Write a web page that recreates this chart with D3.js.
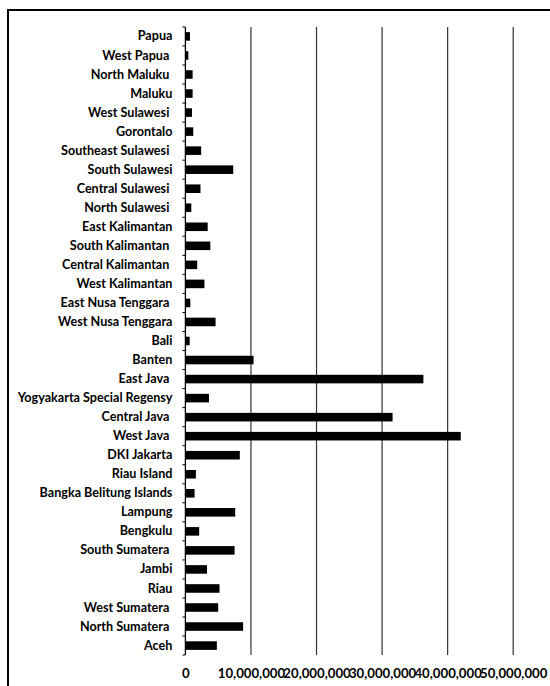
<!DOCTYPE html>
<html lang="en">
<head>
<meta charset="utf-8">
<title>Population by province</title>
<script src="https://d3js.org/d3.v7.min.js"></script>
<style>
  body { margin: 0; background: #fff; }
  .lbl text { font-family: Lato, "Liberation Sans", sans-serif; font-weight: bold; fill: #000; white-space: pre; }
  .cat text { font-size: 12.6px; }
  .val text { font-size: 13.2px; }
</style>
</head>
<body>
<div id="chart"></div>
<script>
// provinces, top to bottom (trailing spaces kept as in the original labels)
let provinces = ["Papua", "West Papua ", "North Maluku ", "Maluku", "West Sulawesi ", "Gorontalo",
    "Southeast Sulawesi ", "South Sulawesi", "Central Sulawesi ", "North Sulawesi ", "East Kalimantan",
    "South Kalimantan ", "Central Kalimantan ", "West Kalimantan", "East Nusa Tenggara ", "West Nusa Tenggara",
    "Bali", "Banten", "East Java ", "Yogyakarta Special Regensy", "Central Java ", "West Java ",
    "DKI Jakarta", "Riau Island", "Bangka Belitung Islands", "Lampung", "Bengkulu", "South Sumatera ",
    "Jambi", "Riau", "West Sumatera ", "North Sumatera ", "Aceh"];

// values
let population = [700000, 450000, 1100000, 1100000, 1000000, 1200000,
    2400000, 7300000, 2300000, 900000, 3400000,
    3800000, 1800000, 2900000, 750000, 4600000,
    650000, 10400000, 36300000, 3600000, 31600000, 42000000,
    8300000, 1600000, 1400000, 7600000, 2100000, 7500000,
    3300000, 5200000, 5000000, 8800000, 4800000];

let xTicks = [0, 10000000, 20000000, 30000000, 40000000, 50000000];

let width = 550, height = 686;
let plotTop = 27, plotBottom = 655;

let svg = d3.select("#chart").append("svg")
    .attr("width", width)
    .attr("height", height);

// outer frame
svg.append("rect")
    .attr("x", 8).attr("y", 10)
    .attr("width", 600).attr("height", 700)
    .attr("fill", "none")
    .attr("stroke", "#000")
    .attr("stroke-width", 2);

let data = provinces.map(function(p, i) { return {name: p, value: population[i]}; });

let y = d3.scaleBand()
    .domain(provinces)
    .range([plotTop, plotBottom])
    .paddingInner(0.55)
    .paddingOuter(0.27);

let x = d3.scaleLinear()
    .domain([0, 50000000])
    .range([185.4, 513.2]);

// gridlines
svg.append("g")
    .selectAll("line")
    .data(xTicks.slice(1))
    .enter().append("line")
    .attr("x1", function(d) { return x(d); })
    .attr("x2", function(d) { return x(d); })
    .attr("y1", plotTop)
    .attr("y2", plotBottom)
    .attr("stroke", "#333")
    .attr("stroke-width", 1.2);

// bars
svg.append("g")
    .selectAll("rect")
    .data(data)
    .enter().append("rect")
    .attr("x", x(0))
    .attr("y", function(d) { return y(d.name); })
    .attr("width", function(d) { return x(d.value) - x(0); })
    .attr("height", y.bandwidth())
    .attr("fill", "#000");

// category axis: labels
let yAxis = d3.axisLeft(y).tickSize(0).tickPadding(13);
let gy = svg.append("g")
    .attr("class", "lbl cat")
    .attr("transform", "translate(" + x(0) + ",0)")
    .call(yAxis);
gy.select(".domain").remove();

// category axis line with small marks between categories
svg.append("line")
    .attr("x1", x(0)).attr("x2", x(0))
    .attr("y1", plotTop).attr("y2", plotBottom)
    .attr("stroke", "#000").attr("stroke-width", 1.3);

let bounds = provinces.map(function(p) { return y(p) - y.step() * y.paddingInner() / 2; });
bounds.push(plotBottom);
svg.append("g")
    .selectAll("line")
    .data(bounds)
    .enter().append("line")
    .attr("x1", x(0) - 3).attr("x2", x(0))
    .attr("y1", function(d) { return d; })
    .attr("y2", function(d) { return d; })
    .attr("stroke", "#000");

// value axis: tick labels only
let xAxis = d3.axisBottom(x)
    .tickValues(xTicks)
    .tickFormat(d3.format(","))
    .tickSize(0)
    .tickPadding(0);
let gx = svg.append("g")
    .attr("class", "lbl val")
    .attr("transform", "translate(0,669)")
    .call(xAxis);
gx.select(".domain").remove();
</script>
</body>
</html>
